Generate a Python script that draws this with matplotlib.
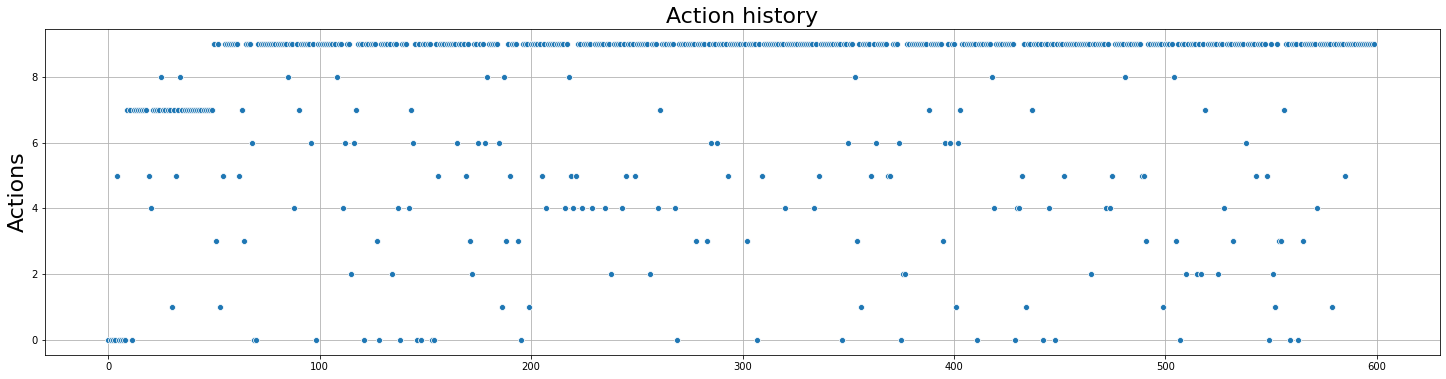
import numpy as np
import matplotlib
matplotlib.use("Agg")
import matplotlib.pyplot as plt
import seaborn as sns

# action held over a run of steps: run starts at run_starts[i]
run_starts = [0, 9, 50]
run_values = [0, 7, 9]
n_steps = 600

# steps whose action differs from the running one
outlier_steps = [4, 11, 19, 20, 25, 30, 32, 34,
                 51, 53, 54, 62, 63, 64, 68, 69, 70, 85, 88, 90, 96, 98,
                 108, 111, 112, 115, 116, 117, 121, 127, 128, 134, 137, 138, 142, 143, 144,
                 146, 148, 153, 154, 156, 165, 169, 171, 172, 175, 178, 179, 185, 186, 187,
                 188, 190, 194, 195, 199,
                 205, 207, 216, 218, 219, 220, 221, 224, 229, 235, 238, 243, 245, 249, 256,
                 260, 261, 268, 269, 278, 283, 285, 288, 293,
                 302, 307, 309, 320, 334, 336, 347, 350, 353, 354, 356, 361, 363, 369, 370,
                 374, 375, 376, 377, 388, 395, 396, 398,
                 401, 402, 403, 411, 418, 419, 429, 430, 431, 432, 434, 437, 442, 445, 448,
                 452, 465, 472, 474, 475, 481, 489, 490, 491, 499,
                 504, 505, 507, 510, 515, 517, 519, 525, 528, 532, 538, 543, 548, 549, 551,
                 552, 554, 555, 556, 559, 563, 565, 572, 579, 585]
outlier_actions = [5, 0, 5, 4, 8, 1, 5, 8,
                   3, 1, 5, 5, 7, 3, 6, 0, 0, 8, 4, 7, 6, 0,
                   8, 4, 6, 2, 6, 7, 0, 3, 0, 2, 4, 0, 4, 7, 6,
                   0, 0, 0, 0, 5, 6, 5, 3, 2, 6, 6, 8, 6, 1, 8,
                   3, 5, 3, 0, 1,
                   5, 4, 4, 8, 5, 4, 5, 4, 4, 4, 2, 4, 5, 5, 2,
                   4, 7, 4, 0, 3, 3, 6, 6, 5,
                   3, 0, 5, 4, 4, 5, 0, 6, 8, 3, 1, 5, 6, 5, 5,
                   6, 0, 2, 2, 7, 3, 6, 6,
                   1, 6, 7, 0, 8, 4, 0, 4, 4, 5, 1, 7, 0, 4, 0,
                   5, 2, 4, 4, 5, 8, 5, 5, 3, 1,
                   8, 3, 0, 2, 2, 2, 7, 2, 4, 3, 6, 5, 5, 0, 2,
                   1, 3, 3, 7, 0, 0, 3, 4, 1, 5]

steps = np.arange(n_steps)
actions = np.zeros(n_steps, dtype=int)
for s, v in zip(run_starts, run_values):
    actions[s:] = v
for s, v in zip(outlier_steps, outlier_actions):
    actions[s] = v

fig = plt.figure(figsize=(1446 / 72, 379 / 72), dpi=72)
ax = fig.add_axes([45 / 1446, 1 - 355 / 379, 1395 / 1446, 326 / 379])
sns.scatterplot(x=steps, y=actions, ax=ax, color="#1f77b4", s=36, edgecolor="white", linewidth=0.75)
ax.grid(True, color="#b0b0b0", linewidth=0.8)
ax.set_axisbelow(True)
ax.set_title("Action history", fontsize=22)
ax.set_ylabel("Actions", fontsize=22)
ax.tick_params(labelsize=10)
ax.set_xlim(-30, 630)
ax.set_ylim(-0.45, 9.45)
ax.set_xticks([0, 100, 200, 300, 400, 500, 600])
ax.set_yticks([0, 2, 4, 6, 8])

fig.savefig("out.png", dpi=72)
